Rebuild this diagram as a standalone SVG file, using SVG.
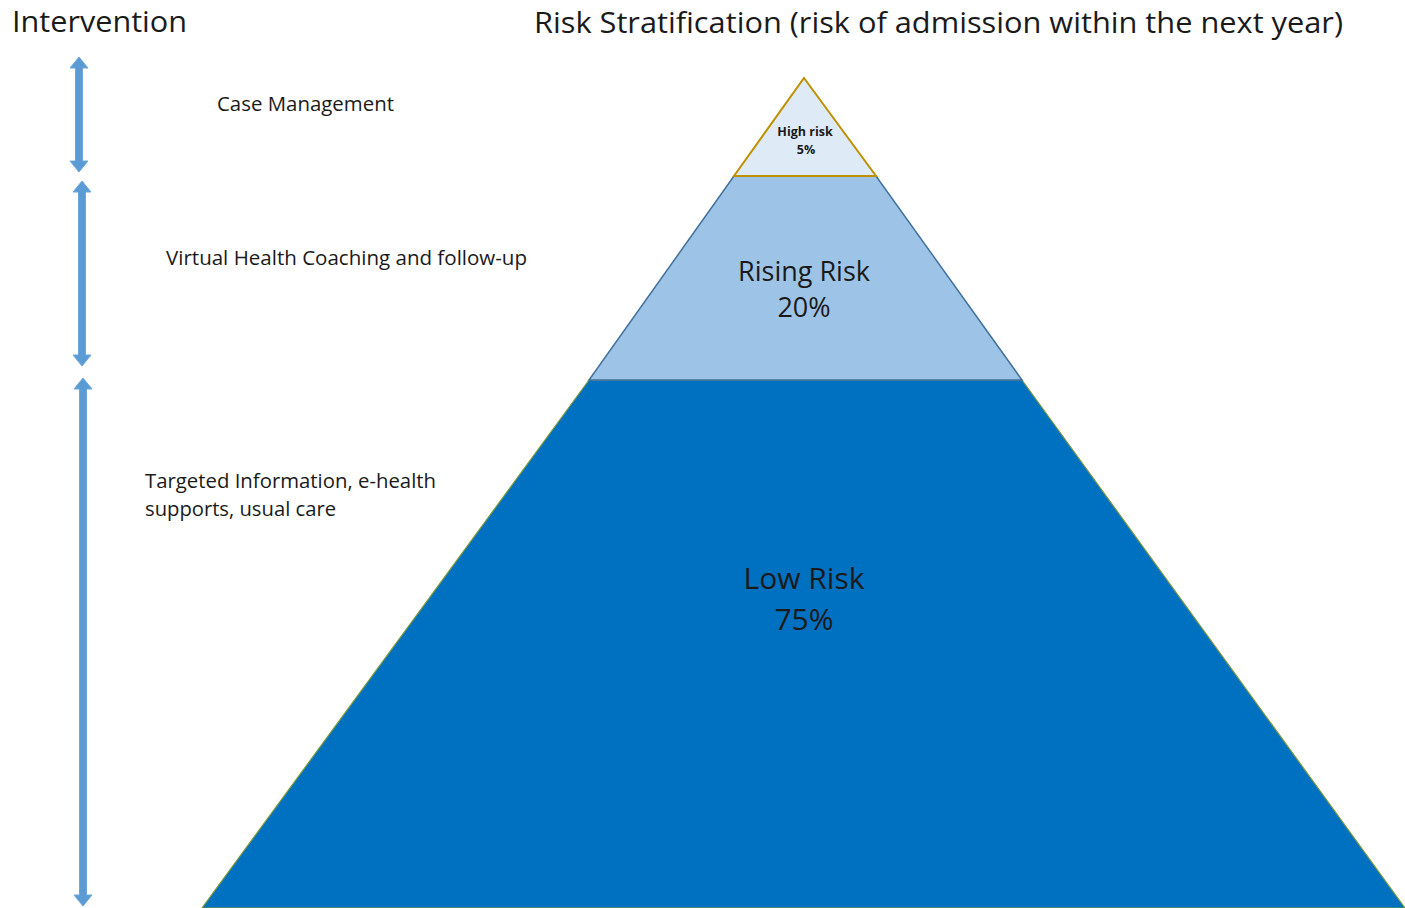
<svg xmlns="http://www.w3.org/2000/svg" width="1405" height="908" viewBox="0 0 1405 908">
  <style>
    .t { font-family: "Open Sans", "Liberation Sans", sans-serif; fill: #1a1a1a; }
    .head { font-size: 30px; }
    .lbl { font-size: 20px; }
    .tier { font-size: 27px; text-anchor: middle; }
    .small { font-size: 12.5px; font-weight: bold; text-anchor: middle; }
    .arrow { fill: #5B9BD5; stroke: #6FA8DC; stroke-width: 1; }
  </style>

  <rect width="1405" height="908" fill="#ffffff"/>

  <!-- headings -->
  <text class="t head" x="12" y="32" textLength="175" lengthAdjust="spacingAndGlyphs">Intervention</text>
  <text class="t head" x="534" y="33" textLength="809" lengthAdjust="spacingAndGlyphs">Risk Stratification (risk of admission within the next year)</text>

  <!-- pyramid tiers -->
  <g id="low-risk">
    <polygon points="589,380 1022,380 1405,908 202,908" fill="#0070C0" stroke="#7E9A3C" stroke-width="1.2"/>
    <text class="t tier" x="804" y="589" style="font-size:30px">Low Risk</text>
    <text class="t tier" x="804" y="630" style="font-size:30px">75%</text>
  </g>
  <g id="rising-risk">
    <polygon points="734,176 876,176 1022,380 589,380" fill="#9DC3E6" stroke="#41719C" stroke-width="1.5"/>
    <text class="t tier" x="804" y="281">Rising Risk</text>
    <text class="t tier" x="804" y="317">20%</text>
  </g>
  <g id="high-risk">
    <polygon points="804,78 876,176 734,176" fill="#DEEBF7" stroke="#BF9000" stroke-width="2"/>
    <text class="t small" x="805" y="136">High risk</text>
    <text class="t small" x="806" y="154">5%</text>
  </g>

  <!-- intervention ranges -->
  <g id="connectors">
    <polygon class="arrow" points="79,57 88,68 82.5,68 82.5,161 88,161 79,172 70,161 75.5,161 75.5,68 70,68"/>
    <polygon class="arrow" points="82,181 91,192 85.5,192 85.5,355 91,355 82,366 73,355 78.5,355 78.5,192 73,192"/>
    <polygon class="arrow" points="83,378 92,389 86.5,389 86.5,895 92,895 83,906 74,895 79.5,895 79.5,389 74,389"/>
  </g>

  <g id="case-management">
    <text class="t lbl" x="217" y="111" textLength="177" lengthAdjust="spacingAndGlyphs">Case Management</text>
  </g>
  <g id="coaching">
    <text class="t lbl" x="166" y="265" textLength="361" lengthAdjust="spacingAndGlyphs">Virtual Health Coaching and follow-up</text>
  </g>
  <g id="targeted-info">
    <text class="t lbl" x="145" y="488" textLength="291" lengthAdjust="spacingAndGlyphs">Targeted Information, e-health</text>
    <text class="t lbl" x="145" y="516" textLength="191" lengthAdjust="spacingAndGlyphs">supports, usual care</text>
  </g>
</svg>
